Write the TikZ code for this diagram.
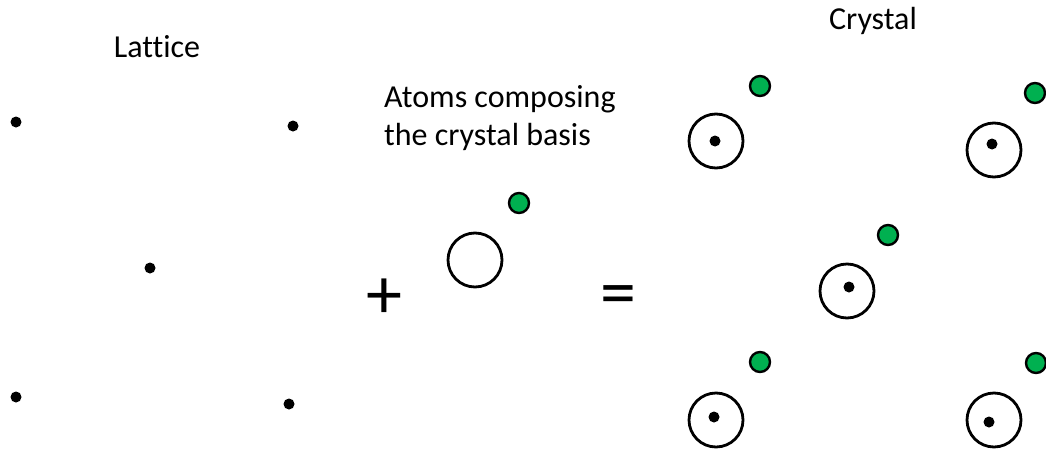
\documentclass[tikz,border=0pt]{standalone}
\usepackage{fontspec}
\setmainfont[Ligatures=NoCommon]{Carlito}
\definecolor{atomgreen}{RGB}{0,176,80}
\begin{document}
\begin{tikzpicture}[x=1pt,y=-1pt,
  latdot/.style={circle,fill=black,inner sep=0pt,minimum size=11pt},
  atom/.style={circle,draw=black,line width=2.8pt,inner sep=0pt,minimum size=54pt},
  green/.style={circle,draw=black,fill=atomgreen,line width=2.4pt,inner sep=0pt,minimum size=20pt},
  lbl/.style={inner sep=0pt,font=\fontsize{32}{38}\selectfont},
  op/.style={inner sep=0pt,font=\fontsize{72}{72}\selectfont}]
\useasboundingbox (0,0) rectangle (1046,450);
% labels
\node[lbl] (tlat) at (157,47) {Lattice};
\node[lbl] (tcry) at (873,21) {Crystal};
\node[lbl,align=left,anchor=north west] (tbas) at (384,85) {Atoms composing\\the crystal basis};
% lattice
\node[latdot] (l1) at (16,122) {};
\node[latdot] (l2) at (293,126) {};
\node[latdot] (l3) at (150,268) {};
\node[latdot] (l4) at (16,397) {};
\node[latdot] (l5) at (289,404) {};
% operators
\node[op] (plus) at (384,299) {+};
\node[op] (eq) at (618,301) {=};
% basis
\node[atom] (ba) at (475,260) {};
\node[green] (bg) at (519,203) {};
% crystal
\node[atom] (c1) at (716,141) {};
\node[latdot] (c1d) at (715,141) {};
\node[green] (c1g) at (760,86) {};
\node[atom] (c2) at (994,150) {};
\node[latdot] (c2d) at (992,144) {};
\node[green] (c2g) at (1035,93) {};
\node[atom] (c3) at (847,291) {};
\node[latdot] (c3d) at (849,287) {};
\node[green] (c3g) at (888,235) {};
\node[atom] (c4) at (716,420) {};
\node[latdot] (c4d) at (714,417) {};
\node[green] (c4g) at (760,362) {};
\node[atom] (c5) at (994,420) {};
\node[latdot] (c5d) at (989,422) {};
\node[green] (c5g) at (1036,363) {};
\end{tikzpicture}
\end{document}
